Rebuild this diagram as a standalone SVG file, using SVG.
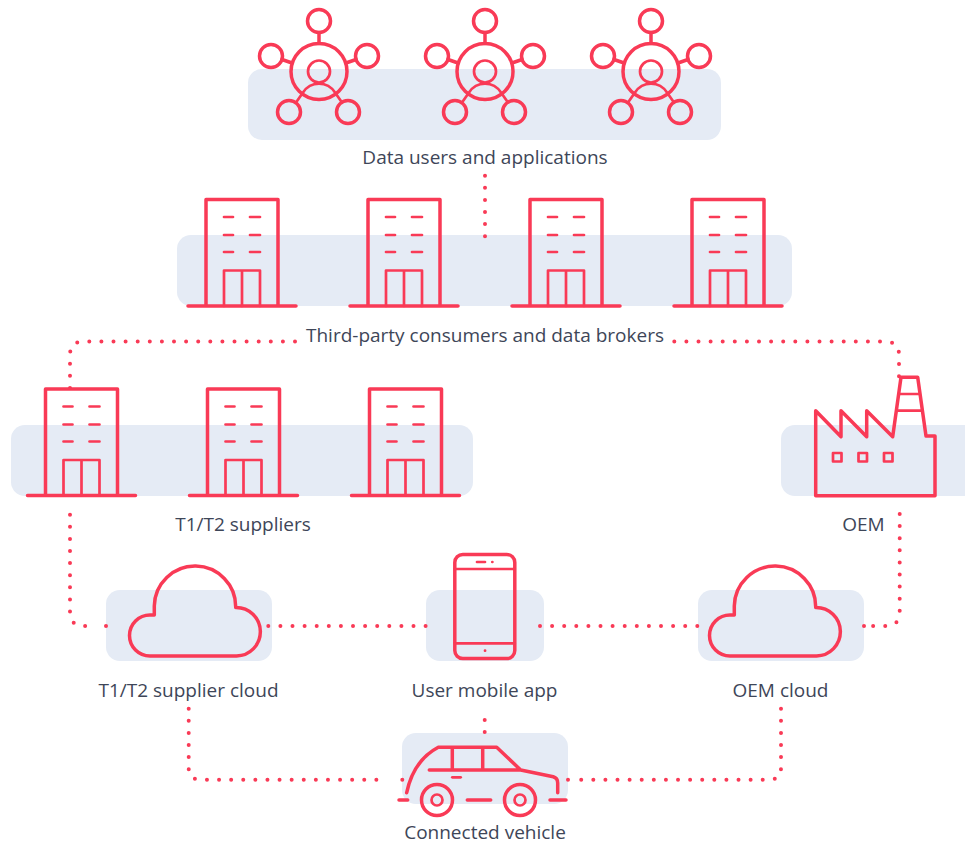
<svg xmlns="http://www.w3.org/2000/svg" width="965" height="843" viewBox="0 0 965 843">
<style>
.p{fill:#e5ebf5}
.i{fill:none;stroke:#f93a56;stroke-width:3.5;stroke-linecap:round;stroke-linejoin:round}
.t{stroke-width:2.7}
.d{fill:none;stroke:#f93a56;stroke-width:4;stroke-linecap:round;stroke-dasharray:0 12.1}
text{font-family:"Open Sans","Noto Sans",sans-serif;font-size:19px;fill:#3e4658;text-anchor:middle;stroke:none}
</style>
<defs>
<g id="hub" class="i">
<circle cx="0" cy="0" r="28"/><circle cx="0" cy="-50.5" r="11.5"/><circle cx="-48" cy="-15.5" r="11.5"/><circle cx="48" cy="-15.5" r="11.5"/><circle cx="-30" cy="40.5" r="11.5"/><circle cx="29" cy="40.5" r="11.5"/>
<path d="M0-39V-28M-37-12L-27-8.500M37-12L27-8.500"/>
<path class="t" d="M-23 31L-16 21A19 19 0 0 1 16 21L23 31"/>
<circle class="t" cx="0" cy="0" r="11"/>
</g>
<g id="bld" class="i">
<path d="M188 306H296M206 306V199.500H278V306"/>
<path class="t" d="M224 217H233M250 217H260M224 235H233M250 235H260M224 252H233M250 252H260"/>
<path class="t" d="M224 306V270.500H260V306M242 270.500V306"/>
</g>
<path id="cloud" class="i" d="M150 656A20.500 20.500 0 0 1 150 615H154.300V606A40 40 0 0 1 235.700 607.500A20 20 0 0 1 236.500 656Z"/>
</defs>
<g id="panels">
<rect class="p" x="248" y="69" width="473" height="71" rx="14"/>
<rect class="p" x="177" y="235" width="615" height="71" rx="14"/>
<rect class="p" x="11" y="425" width="462" height="71" rx="14"/>
<rect class="p" x="781" y="425" width="198" height="71" rx="14"/>
<rect class="p" x="106" y="590" width="166" height="71" rx="14"/>
<rect class="p" x="426" y="590" width="118" height="71" rx="14"/>
<rect class="p" x="698" y="590" width="166" height="71" rx="14"/>
<rect class="p" x="402" y="733" width="166" height="71" rx="14"/>
</g>
<g id="connectors">
<path class="d" d="M485 175.700V236.500"/>
<path class="d" d="M295 341.400H84Q70 341.400 70 355V388"/>
<path class="d" d="M674.300 341.500H885Q899 341.500 899 355V377"/>
<path class="d" d="M70 514.700V612Q70 626 84 626H97M106 626h.1"/>
<path class="d" d="M268.300 626H426"/>
<path class="d" d="M540 626H698.500"/>
<path class="d" d="M899.700 514V612Q899.700 626 885.500 626H872M864 626h.1"/>
<path class="d" d="M188.700 708.700V768Q188.700 779.700 200.500 779.700H388M402.300 779.700h.1"/>
<path class="d" d="M781 708.700V768Q781 779.700 769 779.700H581M568 779.700h.1"/>
<path class="d" d="M484.700 720V733"/>
</g>
<g id="users"><use href="#hub" x="319" y="71.500"/><use href="#hub" x="485" y="71.500"/><use href="#hub" x="651" y="71.500"/><text x="485" y="163.500">Data users and applications</text></g>
<g id="brokers"><use href="#bld"/><use href="#bld" x="162"/><use href="#bld" x="324"/><use href="#bld" x="486"/><text x="485" y="341.500">Third-party consumers and data brokers</text></g>
<g id="suppliers"><use href="#bld" x="-160.500" y="189.500"/><use href="#bld" x="1.500" y="189.500"/><use href="#bld" x="163.500" y="189.500"/><text x="243" y="530.500">T1/T2 suppliers</text></g>
<g id="oem" class="i">
<path d="M815.700 495.700V410.700L841 436.700V410.700L866.700 436.700V410.700L892.700 436.700L901 377.300H917.700L926 436H935V495.700Z"/>
<path class="t" d="M899 394H919.500M896.700 410.700H921.700"/>
<rect class="t" x="833" y="453" width="8.500" height="8.500"/><rect class="t" x="858.500" y="453" width="8.500" height="8.500"/><rect class="t" x="884" y="453" width="8.500" height="8.500"/>
<text x="863.500" y="530.500">OEM</text>
</g>
<g id="suppliercloud"><use href="#cloud"/><text x="188.500" y="696.500">T1/T2 supplier cloud</text></g>
<g id="mobile" class="i">
<rect x="454.800" y="554.500" width="60" height="104" rx="8"/>
<path class="t" d="M454.800 569H514.800M454.800 643.300H514.800"/>
<path class="t" d="M477 562H485M492.300 562H492.400M485 650.700H485.100"/>
<text x="484.500" y="696.500">User mobile app</text>
</g>
<g id="oemcloud"><use href="#cloud" x="580"/><text x="780.500" y="696.500">OEM cloud</text></g>
<g id="vehicle" class="i">
<path d="M406.700 792.700C411 772 422 756 438.300 747.300H496.700L520.700 770L553.300 776.700Q557.700 778 557.700 783V792.700M429.300 770H520.700M452.300 747.300V770M482.700 747.300V770M399 800H407.700M467.300 800H490.700M550 800H566"/>
<path class="t" d="M452.300 777.300H460.700"/>
<circle cx="437" cy="800" r="15.500"/><circle cx="520" cy="800" r="15.500"/>
<circle class="t" cx="437" cy="800" r="5.500"/><circle class="t" cx="520" cy="800" r="5.500"/>
<text x="485" y="838.500">Connected vehicle</text>
</g>
</svg>
